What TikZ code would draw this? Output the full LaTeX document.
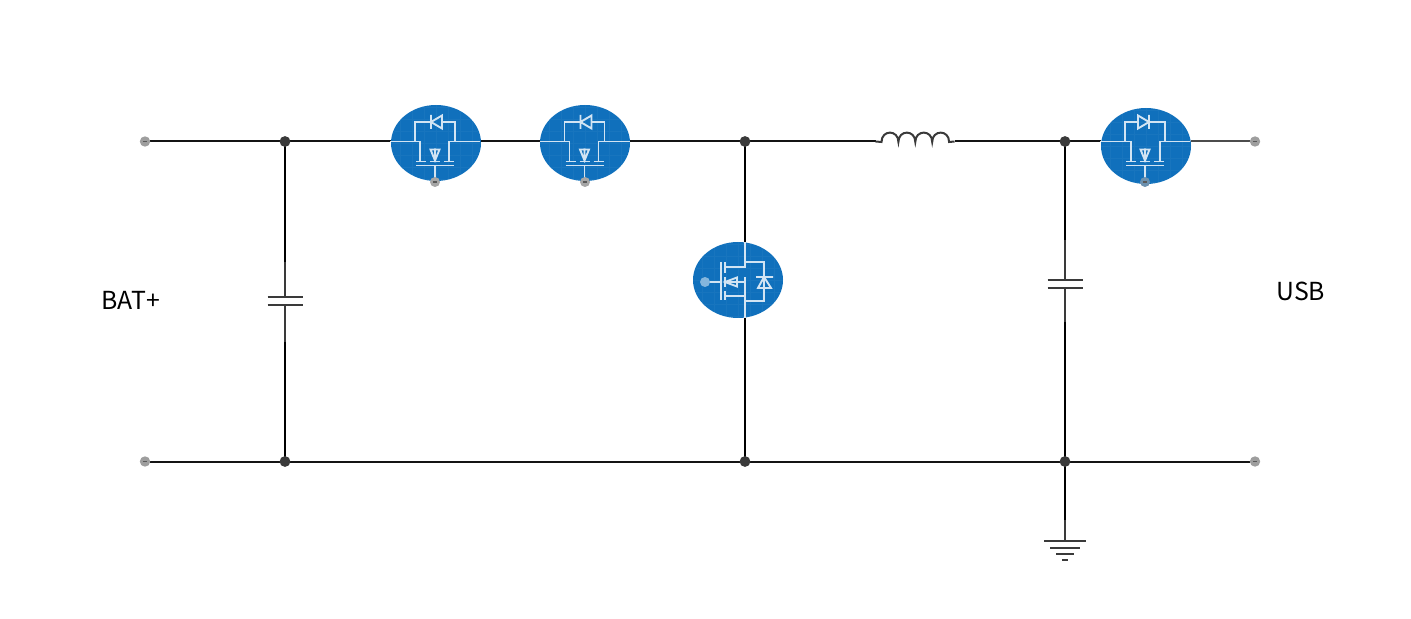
\documentclass[tikz,border=0pt]{standalone}
\usepackage{fontspec}
\setmainfont{Noto Sans CJK SC}
\usetikzlibrary{shapes.geometric,calc,backgrounds}
\definecolor{mosblue}{HTML}{1070BC}
\definecolor{mosline}{HTML}{D2E4F3}
\definecolor{wirecol}{HTML}{141414}
\definecolor{partcol}{HTML}{3A3A3A}
\tikzset{
    wire/.style={wirecol,line width=1pt},
    part/.style={partcol,line width=1pt},
    dot/.style={circle,fill=#1,inner sep=0pt,outer sep=0pt,minimum size=5.4pt},
    junction/.style={dot=partcol},
    terminal/.style={circle,fill=black!38,inner sep=0pt,outer sep=0pt,minimum size=5.2pt},
    mosbody/.style={ellipse,fill=mosblue,inner sep=0pt,outer sep=0pt,minimum width=45pt,minimum height=38pt,
        path picture={\draw[white,opacity=.035,line width=.4pt] (path picture bounding box.south west) grid[step=6pt] (path picture bounding box.north east);}},
    gatepin/.style={circle,fill=#1,inner sep=0pt,outer sep=0pt,minimum size=5pt},
    pinmark/.style={black!65,line width=.6pt},
    mos/.style={mosline,line width=.95pt},
    label/.style={font=\fontsize{12.4pt}{15pt}\selectfont,anchor=base west,inner sep=0pt},
    hmos/.pic={
        \draw[mos] (-45,0) -- (-15,0) -- (-15,20) (14,0) -- (45,0) (14,0) -- (14,20);
        \draw[mos] (-20,0) -- (-20,-19.5) -- (-4,-19.5) (7,-19.5) -- (20,-19.5) -- (20,0);
        \draw[mos] (-4,-26.5) -- (-4,-12.5) (-4,-19.5) -- (7,-26) -- (7,-13) -- cycle;
        \draw[mos] (-19,20) -- (-9,20) (-5,20) -- (5,20) (9,20) -- (19,20);
        \draw[mos] (-19,24) -- (19,24) (0,24) -- (0,38);
        \draw[mos] (0,7) -- (0,20) (-4.5,8) -- (4.5,8) -- (0,19) -- cycle;
    },
    vmos/.pic={
        % drain and source down the wire
        \draw[mos] (0,-40) -- (0,-15) -- (-20,-15) (0,14) -- (-20,14) (0,14) -- (0,36) (0,-5) -- (0,14) (0,0) -- (-20,0);
        \draw[mos] (0,-20) -- (19,-20) -- (19,19) -- (0,19);
        \draw[mos] (11,-5) -- (28,-5) (19,-5) -- (13,6) -- (26,6) -- cycle;
        \draw[mos] (-20,-20) -- (-20,-9) (-20,-5) -- (-20,5) (-20,9) -- (-20,18);
        \draw[mos] (-24,-20) -- (-24,18) (-40,0) -- (-24,0);
        \draw[mos] (-20,0) -- (-8,-4.5) -- (-8,4.5) -- cycle;
    },
}

\begin{document}
\begin{tikzpicture}[x=.5pt,y=-.5pt]
    \useasboundingbox (0,0) rectangle (1411,619);

    \node[terminal] (tla) at (145,141.5) {};
    \node[terminal] (tlb) at (145,461.5) {};
    \node[terminal] (tra) at (1255,141.5) {};
    \node[terminal] (trb) at (1255,461.5) {};
    \node[junction] (ja) at (285,141.5) {};
    \node[junction] (jb) at (745,141.5) {};
    \node[junction] (jc) at (1065,141.5) {};
    \node[junction] (jd) at (285,461.5) {};
    \node[junction] (je) at (745,461.5) {};
    \node[junction] (jf) at (1065,461.5) {};

    \node[mosbody] (qa) at (436,143) {};
    \node[mosbody] (qb) at (585,143) {};
    \node[mosbody] (qc) at (738,280) {};
    \node[mosbody] (qd) at (1146,146) {};

    \coordinate (cap a in) at (285,262);
    \coordinate (cap a top) at (285,297.5);
    \coordinate (cap a bot) at (285,305.5);
    \coordinate (cap a out) at (285,342);
    \coordinate (cap b in) at (1065,240);
    \coordinate (cap b top) at (1065,280);
    \coordinate (cap b bot) at (1065,288);
    \coordinate (cap b out) at (1065,322);
    \coordinate (ind stub a) at (875.5,141.5);
    \coordinate (ind in) at (881.5,142);
    \coordinate (ind out) at (949,142);
    \coordinate (ind stub b) at (954.5,141.5);
    \coordinate (gnd in) at (1065,520);
    \coordinate (gnd) at (1065,541);

    \begin{pgfonlayer}{background}
        % top rail
        \draw[wire] (tla) -- (ja.center);
        \draw[wire] (ja.center) -- (ja -| qa.west);
        \draw[wire] (ja -| qa.east) -- (ja -| qb.west);
        \draw[wire] (ja -| qb.east) -- (jb.center);
        \draw[wire] (jb.center) -- (ind stub a);
        \draw[wire] (ind stub b) -- (jc.center);
        \draw[wire] (jc.center) -- (jc -| qd.west);
        \draw[wire,black!70] (jc -| qd.east) -- (tra);
        % bottom rail
        \draw[wire] (tlb) -- (jd.center);
        \draw[wire] (jd.center) -- (je.center);
        \draw[wire] (je.center) -- (jf.center);
        \draw[wire] (jf.center) -- (trb);
        % verticals
        \draw[wire,black] (ja.center) -- (cap a in);
        \draw[part] (cap a in) -- (cap a top);
        \draw[part] (cap a bot) -- (cap a out);
        \draw[wire,black] (cap a out) -- (jd.center);
        \draw[wire,black] (jb.center) -- (jb |- qc.north);
        \draw[wire,black] (jb |- qc.south) -- (je.center);
        \draw[wire,black] (jc.center) -- (cap b in);
        \draw[part] (cap b in) -- (cap b top);
        \draw[part] (cap b bot) -- (cap b out);
        \draw[wire,black] (cap b out) -- (jf.center);
        \draw[wire,black] (jf.center) -- (gnd in);
        \draw[part] (gnd in) -- (gnd);
    \end{pgfonlayer}

    % capacitors
    \draw[part] (cap a top) ++(-17.5,0) -- ++(35,0);
    \draw[part] (cap a bot) ++(-17.5,0) -- ++(35,0);
    \draw[part] (cap b top) ++(-17.5,0) -- ++(35,0);
    \draw[part] (cap b bot) ++(-17.5,0) -- ++(35,0);

    % inductor
    \draw[part] (ind stub a) -- (ind in)
        \foreach \i in {0,1,2,3} {
            .. controls ++(0,-12.5) and ++(0,-12.5) .. ++(16.9,0)
        } -- (ind stub b);

    % ground
    \draw[part] (gnd) ++(-21,0) -- ++(42,0);
    \draw[part] (gnd) ++(-15,6.5) -- ++(30,0);
    \draw[part] (gnd) ++(-9,12.5) -- ++(18,0);
    \draw[part] (gnd) ++(-3,18.5) -- ++(6,0);

    \pic at (435,141.5) {hmos};
    \pic at (584.5,141.5) {hmos};
    \pic[xscale=-1] at (1145,141.5) {hmos};
    \pic at (745,282) {vmos};

    \node[gatepin=black!35] (ga) at (435,182) {};
    \node[gatepin=black!35] (gb) at (585,182) {};
    \node[gatepin=mosline!60!mosblue] (gc) at (705,282) {};
    \node[gatepin=black!30!mosline!70!mosblue] (gd) at (1145,182) {};

    \foreach \t in {tla,tlb,tra,trb,ga,gb,gd} {
        \draw[pinmark] (\t) ++(-2,0) -- ++(4,0);
    }

    \node[label] (bat) at (101,309.5) {BAT+};
    \node[label] (usb) at (1276,300.5) {USB};
\end{tikzpicture}
\end{document}
